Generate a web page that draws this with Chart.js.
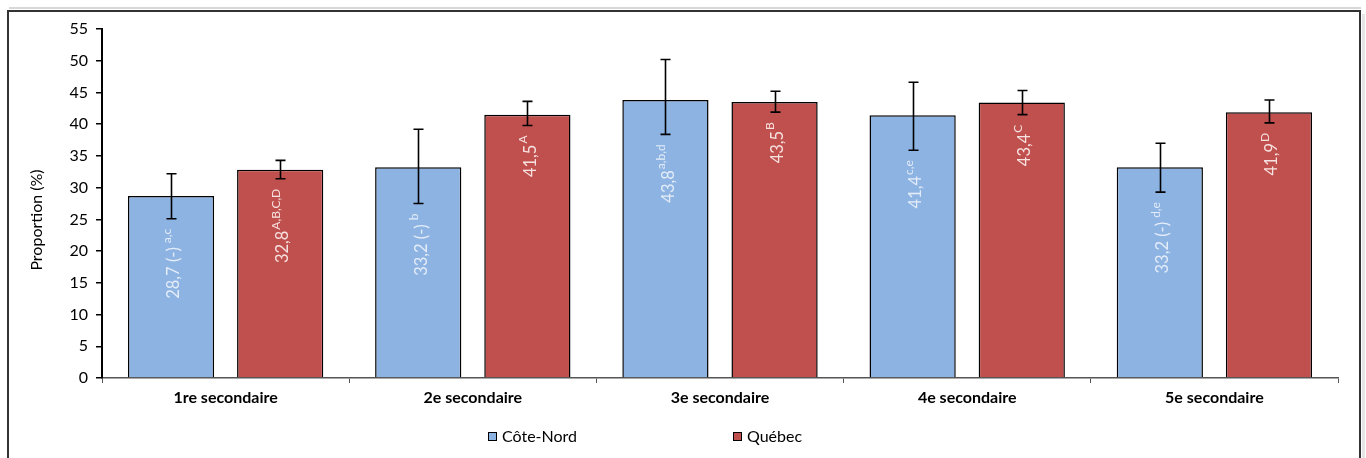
<!DOCTYPE html>
<html><head><meta charset="utf-8">
<script src="https://cdn.jsdelivr.net/npm/chart.js@4.4.1/dist/chart.umd.min.js"></script>
<style>html,body{margin:0;padding:0;background:#fff;overflow:hidden}canvas{display:block}</style>
</head><body><canvas id="c" width="1366" height="458"></canvas>
<script>
const categories = ['1re secondaire', '2e secondaire', '3e secondaire', '4e secondaire', '5e secondaire'];
const seriesNames = ['Côte-Nord', 'Québec'];
const coteNord = [28.7, 33.2, 43.8, 41.4, 33.2];
const quebec = [32.8, 41.5, 43.5, 43.4, 41.9];
const coteNordLow = [25.1, 27.5, 38.4, 35.9, 29.3];
const coteNordHigh = [32.2, 39.2, 50.2, 46.6, 37.0];
const quebecLow = [31.4, 39.8, 41.9, 41.5, 40.2];
const quebecHigh = [34.3, 43.6, 45.2, 45.3, 43.8];
const coteNordFlag = ['(-)', '(-)', '', '', '(-)'];
const quebecFlag = ['', '', '', '', ''];
const coteNordSup = ['a,c', 'b', 'a,b,d', 'c,e', 'd,e'];
const quebecSup = ['A,B,C,D', 'A', 'B', 'C', 'D'];
const yMin = 0, yMax = 55, yStep = 5;
const yTitle = 'Proportion (%)';

const FONT = 'Lato';
const colors = ['#8DB3E2', '#C0504D'];
const labelColors = ['#e3ecf8', '#f6e2e1'];
const lows = [coteNordLow, quebecLow];
const highs = [coteNordHigh, quebecHigh];
const flags = [coteNordFlag, quebecFlag];
const sups = [coteNordSup, quebecSup];

const fmt = v => v.toFixed(1).replace('.', ',');

const framePlugin = {
  id: 'frame',
  beforeDraw(chart) {
    const c = chart.ctx;
    c.save(); c.fillStyle = '#fff'; c.fillRect(0, 0, chart.width, chart.height); c.restore();
  },
  afterDraw(chart) {
    const c = chart.ctx;
    c.save();
    c.fillStyle = '#e6e6e6';
    c.fillRect(1362, 14, 3, 460);
    c.fillStyle = '#d8d8d8';
    c.fillRect(9, 7, 1352, 2);
    c.strokeStyle = '#333';
    c.lineWidth = 2;
    c.beginPath();
    c.moveTo(8, 470); c.lineTo(8, 11); c.lineTo(1360, 11); c.lineTo(1360, 470);
    c.stroke();
    // y-axis title
    c.save();
    c.translate(37, 220);
    c.rotate(-Math.PI / 2);
    c.font = '16px ' + FONT;
    c.fillStyle = '#000';
    c.textAlign = 'center';
    c.textBaseline = 'middle';
    c.fillText(yTitle, 0, 0);
    c.restore();
    // legend
    const items = [[488, seriesNames[0], colors[0]], [733, seriesNames[1], colors[1]]];
    c.font = '16px ' + FONT;
    c.textBaseline = 'middle';
    c.textAlign = 'left';
    items.forEach(([x, t, col]) => {
      c.fillStyle = col;
      c.fillRect(x + 0.5, 432.5, 8, 8);
      c.strokeStyle = '#000'; c.lineWidth = 1;
      c.strokeRect(x + 0.5, 432.5, 8, 8);
      c.fillStyle = '#000';
      c.fillText(t, x + 14, 436.5);
    });
    c.restore();
  }
};

const errorPlugin = {
  id: 'errbars',
  afterDatasetsDraw(chart) {
    const c = chart.ctx, ys = chart.scales.y;
    c.save();
    c.strokeStyle = '#000'; c.lineWidth = 1.6;
    chart.data.datasets.forEach((ds, di) => {
      chart.getDatasetMeta(di).data.forEach((el, i) => {
        const x = Math.round(el.x) + 0.5;
        const yh = ys.getPixelForValue(highs[di][i]);
        const yl = ys.getPixelForValue(lows[di][i]);
        c.beginPath();
        c.moveTo(x, yh); c.lineTo(x, yl);
        c.moveTo(x - 5, yh); c.lineTo(x + 5, yh);
        c.moveTo(x - 5, yl); c.lineTo(x + 5, yl);
        c.stroke();
      });
    });
    chart.data.datasets.forEach((ds, di) => {
      chart.getDatasetMeta(di).data.forEach((el, i) => {
        const yl = ys.getPixelForValue(lows[di][i]);
        const main = fmt(ds.data[i]) + (flags[di][i] ? ' ' + flags[di][i] : '');
        const sup = sups[di][i];
        c.save();
        c.translate(el.x + 1, yl + 10);
        c.rotate(-Math.PI / 2);
        c.fillStyle = labelColors[di];
        c.textBaseline = 'middle';
        c.textAlign = 'left';
        c.font = '16.5px ' + FONT;
        const wm = c.measureText(main).width;
        c.font = '12px ' + FONT;
        const ws = c.measureText(sup).width;
        const gap = flags[di][i] ? 4 : 1;
        const total = wm + gap + ws;
        c.font = '16.5px ' + FONT;
        c.fillText(main, -total, 2);
        c.font = '12px ' + FONT;
        c.fillText(sup, -ws, -5);
        c.restore();
      });
    });
    c.restore();
  }
};

new Chart(document.getElementById('c'), {
  type: 'bar',
  data: {
    labels: categories,
    datasets: [
      { label: seriesNames[0], data: coteNord, backgroundColor: colors[0], borderColor: '#000', borderWidth: 1.5, categoryPercentage: 0.883, barPercentage: 0.79 },
      { label: seriesNames[1], data: quebec, backgroundColor: colors[1], borderColor: '#000', borderWidth: 1.5, categoryPercentage: 0.883, barPercentage: 0.79 }
    ]
  },
  options: {
    responsive: false, animation: false, devicePixelRatio: 1,
    layout: { padding: { left: 0, right: 28, top: 29, bottom: 0 } },
    plugins: { legend: { display: false }, tooltip: { enabled: false } },
    scales: {
      x: {
        grid: { offset: true, drawOnChartArea: false, drawTicks: true, tickLength: 5, color: '#555', lineWidth: 1 },
        border: { color: '#555', width: 1.5 },
        ticks: { color: '#000', font: { family: FONT, size: 16, weight: 'bold' }, padding: 5 },
        afterFit(s) { s.height = 80; }
      },
      y: {
        min: yMin, max: yMax,
        ticks: { stepSize: yStep, color: '#000', font: { family: FONT, size: 16 }, padding: 8 },
        grid: { drawOnChartArea: false, drawTicks: true, tickLength: 6, color: '#000', lineWidth: 1.5 },
        border: { color: '#000', width: 2 },
        title: { display: false, text: yTitle },
        afterFit(s) { s.width = 102; }
      }
    }
  },
  plugins: [framePlugin, errorPlugin]
});
</script>
</body></html>
